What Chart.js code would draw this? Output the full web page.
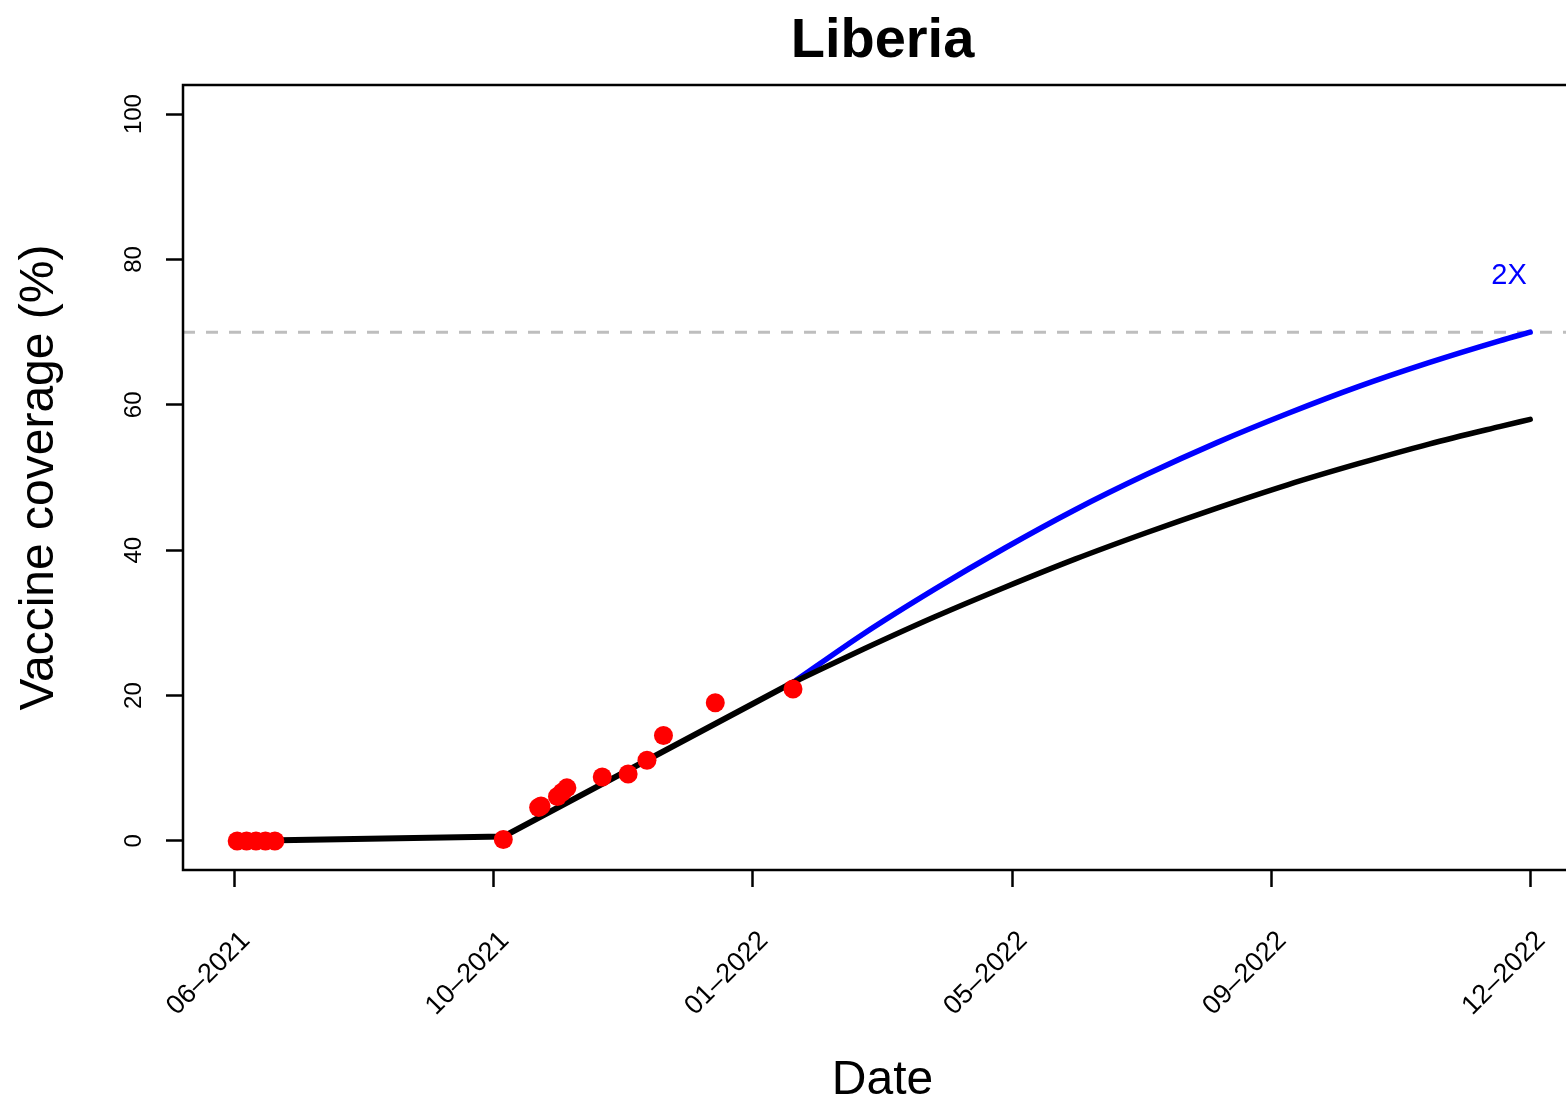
<!DOCTYPE html>
<html>
<head>
<meta charset="utf-8">
<title>Liberia</title>
<script src="https://cdn.jsdelivr.net/npm/chart.js@4.4.1/dist/chart.umd.min.js"></script>
<style>
  html, body { margin: 0; padding: 0; background: #fff; overflow: hidden; }
</style>
</head>
<body>
<canvas id="coverageChart" width="1620" height="1100"></canvas>
<script>
// x axis is in days since the first tick
const tickDays = [0, 110, 220, 330, 440, 550];
const tickLabels = ['06–2021', '10–2021', '01–2022', '05–2022', '09–2022', '12–2022'];
const yTicks = [0, 20, 40, 60, 80, 100];

// observed coverage (red dots)
const obsDays = [1, 5, 9, 13, 17, 114, 129, 130, 137, 139, 141, 156, 167, 175, 182, 204, 237];
const obsCoverage = [0, 0, 0, 0, 0, 0.2, 4.6, 4.8, 6.1, 6.7, 7.3, 8.8, 9.2, 11.1, 14.5, 19.0, 20.9];

// fitted trend (black, straight pieces)
const fitDays = [0, 114, 237];
const fitCoverage = [0.0, 0.6, 21.8];

// projection at current pace (black)
const paceDays = [237, 267, 297, 327, 357, 387, 417, 447, 477, 507, 537, 550];
const paceCoverage = [21.8, 26.4, 30.8, 34.9, 38.8, 42.4, 45.8, 49.0, 51.9, 54.6, 57.0, 58.0];

// projection at twice the pace (blue)
const fastDays = [237, 267, 297, 327, 357, 387, 417, 447, 477, 507, 537, 550];
const fastCoverage = [21.8, 28.5, 34.6, 40.3, 45.6, 50.4, 54.8, 58.8, 62.5, 65.8, 68.8, 70.0];

const targetDays = [-22, 572];
const targetCoverage = [70, 70];

const FONT = '"Liberation Sans", Arial, Helvetica, sans-serif';
Chart.defaults.font.family = FONT;
Chart.defaults.color = '#000';

const toPoints = (xs, ys) => xs.map((x, i) => ({ x: x, y: ys[i] }));

// R-like bits: box, title, rotated y tick labels, "2X" tag
const rStyleExtras = {
    id: 'rStyleExtras',
    afterDraw(chart) {
        const { ctx, chartArea, scales } = chart;
        ctx.save();
        ctx.strokeStyle = '#000';
        ctx.lineWidth = 2.5;
        ctx.strokeRect(chartArea.left, chartArea.top, chartArea.right - chartArea.left, chartArea.bottom - chartArea.top);

        ctx.fillStyle = '#000';
        ctx.textAlign = 'center';
        ctx.textBaseline = 'alphabetic';
        ctx.font = 'bold 56px ' + FONT;
        ctx.fillText('Liberia', (chartArea.left + chartArea.right) / 2, 57);

        ctx.font = '24px ' + FONT;
        ctx.textBaseline = 'middle';
        yTicks.forEach(v => {
            const y = scales.y.getPixelForValue(v);
            ctx.save();
            ctx.translate(134, y);
            ctx.rotate(-Math.PI / 2);
            ctx.fillText(String(v), 0, 0);
            ctx.restore();
        });

        ctx.fillStyle = '#0000ff';
        ctx.font = '29px ' + FONT;
        ctx.textBaseline = 'alphabetic';
        ctx.fillText('2X', scales.x.getPixelForValue(541), scales.y.getPixelForValue(76.6));
        ctx.restore();
    }
};

const lineStyle = {
    pointRadius: 0,
    showLine: true,
    borderCapStyle: 'round',
    borderJoinStyle: 'round'
};

const ctx = document.getElementById('coverageChart').getContext('2d');
const coverageChart = new Chart(ctx, {
    type: 'scatter',
    data: {
        datasets: [
            {
                label: 'Observed',
                data: toPoints(obsDays, obsCoverage),
                backgroundColor: '#ff0000',
                borderColor: '#ff0000',
                pointRadius: 9.5,
                pointBorderWidth: 0,
                showLine: false,
                order: 0
            },
            {
                ...lineStyle,
                label: 'Fit',
                data: toPoints(fitDays, fitCoverage),
                borderColor: '#000000',
                borderWidth: 6,
                order: 1
            },
            {
                ...lineStyle,
                label: 'Current pace',
                data: toPoints(paceDays, paceCoverage),
                borderColor: '#000000',
                borderWidth: 5.5,
                cubicInterpolationMode: 'monotone',
                order: 2
            },
            {
                ...lineStyle,
                label: '2X',
                data: toPoints(fastDays, fastCoverage),
                borderColor: '#0000ff',
                borderWidth: 5.5,
                cubicInterpolationMode: 'monotone',
                order: 3
            },
            {
                label: 'Target',
                data: toPoints(targetDays, targetCoverage),
                borderColor: '#bebebe',
                borderWidth: 3,
                borderDash: [12, 11],
                pointRadius: 0,
                showLine: true,
                order: 4
            }
        ]
    },
    options: {
        responsive: false,
        devicePixelRatio: 1,
        animation: false,
        layout: {
            padding: { left: 0, top: 85, right: 38, bottom: 0 }
        },
        scales: {
            x: {
                type: 'linear',
                min: -22,
                max: 572,
                afterBuildTicks: (scale) => {
                    scale.ticks = tickDays.map(v => ({ value: v }));
                },
                afterFit: (scale) => { scale.height = 230; },
                ticks: {
                    minRotation: 45,
                    maxRotation: 45,
                    padding: 38,
                    labelOffset: 11,
                    font: { size: 27 },
                    callback: (value) => tickLabels[tickDays.indexOf(value)]
                },
                grid: {
                    display: true,
                    drawOnChartArea: false,
                    drawTicks: true,
                    tickLength: 17,
                    tickWidth: 2.5,
                    tickColor: '#000'
                },
                border: { display: false },
                title: {
                    display: true,
                    text: 'Date',
                    font: { size: 48 },
                    padding: { top: 0, bottom: -10 }
                }
            },
            y: {
                min: -4,
                max: 104,
                afterBuildTicks: (scale) => {
                    scale.ticks = yTicks.map(v => ({ value: v }));
                },
                afterFit: (scale) => { scale.width = 183; },
                ticks: { display: false },
                grid: {
                    display: true,
                    drawOnChartArea: false,
                    drawTicks: true,
                    tickLength: 17,
                    tickWidth: 2.5,
                    tickColor: '#000'
                },
                border: { display: false },
                title: {
                    display: true,
                    text: 'Vaccine coverage (%)',
                    font: { size: 48 },
                    padding: { top: 11, bottom: 0 }
                }
            }
        },
        plugins: {
            legend: { display: false },
            tooltip: { enabled: false },
            title: { display: false }
        }
    },
    plugins: [rStyleExtras]
});
</script>
</body>
</html>
